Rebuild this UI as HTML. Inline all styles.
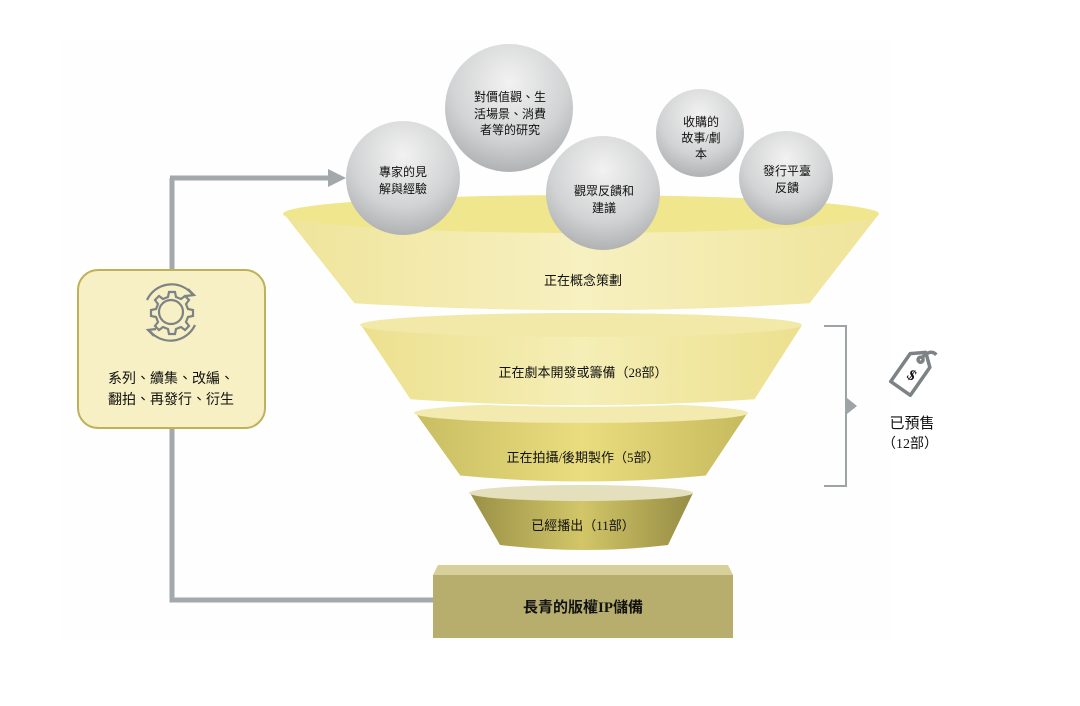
<!DOCTYPE html>
<html><head><meta charset="utf-8"><style>
html,body{margin:0;padding:0;background:#fff;}
svg{display:block;}
text{font-family:"Liberation Serif","Noto Sans CJK TC",sans-serif;fill:#111;}
</style></head><body>
<svg width="1080" height="706" viewBox="0 0 1080 706" xmlns="http://www.w3.org/2000/svg">
<defs>
<radialGradient id="ball" cx="50%" cy="30%" r="75%">
<stop offset="0" stop-color="#f2f2f2"/><stop offset="0.6" stop-color="#d2d3d4"/><stop offset="1" stop-color="#a9abad"/>
</radialGradient>
<linearGradient id="g1" x1="0" x2="1"><stop offset="0" stop-color="#efe49a"/><stop offset="0.5" stop-color="#f7f0c0"/><stop offset="1" stop-color="#efe49a"/></linearGradient>
<linearGradient id="g2" x1="0" x2="1"><stop offset="0" stop-color="#ece08e"/><stop offset="0.5" stop-color="#f5eeb6"/><stop offset="1" stop-color="#ece08e"/></linearGradient>
<linearGradient id="g3" x1="0" x2="1"><stop offset="0" stop-color="#c9bd63"/><stop offset="0.5" stop-color="#e9dd7e"/><stop offset="1" stop-color="#c6ba5e"/></linearGradient>
<linearGradient id="g4" x1="0" x2="1"><stop offset="0" stop-color="#9a9046"/><stop offset="0.5" stop-color="#d2c668"/><stop offset="1" stop-color="#968c44"/></linearGradient>
</defs>
<rect x="60" y="40" width="830" height="600" fill="#fefefe"/>
<path d="M172 178 V600 H433" fill="none" stroke="#a3a8ab" stroke-width="5"/>
<path d="M170 178 H330" fill="none" stroke="#a3a8ab" stroke-width="5"/>
<polygon points="328,169 346,178 328,187" fill="#a3a8ab"/>
<rect x="78" y="270" width="187" height="158" rx="20" fill="#f6f0c4" stroke="#bfb15a" stroke-width="2"/>
<g fill="none" stroke="#7d8285" stroke-width="2.2">
<circle cx="171" cy="312" r="12"/>
<path d="M171 292 l4 0 1 5 5 2 4-3 4 4-3 4 2 5 5 1 0 6-5 1-2 5 3 4-4 4-4-3-5 2-1 5-6 0-1-5-5-2-4 3-4-4 3-4-2-5-5-1 0-6 5-1 2-5-3-4 4-4 4 3 5-2 1-5z"/>
<path d="M147 300 A27 27 0 0 1 193 295"/><path d="M195 325 A27 27 0 0 1 149 330"/>
<path d="M188 289 l6 6 -8 1"/><path d="M154 336 l-6 -6 8 -1"/>
</g>
<text x="171" y="383" font-size="14" text-anchor="middle">系列、續集、改編、</text>
<text x="171" y="404" font-size="14" text-anchor="middle">翻拍、再發行、衍生</text>
<rect x="433" y="575" width="300" height="63" fill="#b7ad6c"/>
<polygon points="433,575 438,565 728,565 733,575" fill="#d8d09a"/>
<text x="583" y="612" font-size="15" font-weight="bold" text-anchor="middle">長青的版權IP儲備</text>
<path d="M470 493 L500 545 Q584 555 668 545 L693 493 Z" fill="url(#g4)"/>
<ellipse cx="581" cy="493" rx="112" ry="8" fill="#e4dfbd"/>
<text x="583" y="530" font-size="13" text-anchor="middle">已經播出（11部）</text>
<path d="M415 413 L460 476 Q584 488 706 476 L748 413 Z" fill="url(#g3)" stroke="#fff" stroke-width="1"/>
<ellipse cx="581" cy="413" rx="167" ry="10" fill="#f3eab0"/>
<text x="583" y="462" font-size="13" text-anchor="middle">正在拍攝/後期製作（5部）</text>
<path d="M360 325 L410 400 Q584 412 755 400 L803 325 Z" fill="url(#g2)" stroke="#fff" stroke-width="1.5"/>
<ellipse cx="581" cy="325" rx="221" ry="12" fill="#f2e9a8"/>
<text x="583" y="377" font-size="13" text-anchor="middle">正在劇本開發或籌備（28部）</text>
<path d="M283 214 L354 304 Q584 318 810 304 L880 214 Z" fill="url(#g1)" stroke="#fff" stroke-width="1.5"/>
<ellipse cx="581" cy="214" rx="298" ry="19" fill="#f0e68e"/>
<text x="583" y="285" font-size="13" text-anchor="middle">正在概念策劃</text>
<circle cx="403" cy="178" r="57" fill="url(#ball)"/>
<circle cx="509" cy="108" r="64" fill="url(#ball)"/>
<circle cx="603" cy="193" r="57" fill="url(#ball)"/>
<circle cx="700" cy="133" r="44" fill="url(#ball)"/>
<circle cx="786" cy="178" r="47" fill="url(#ball)"/>
<g font-size="12" text-anchor="middle">
<text x="403" y="176">專家的見</text><text x="403" y="193">解與經驗</text>
<text x="510" y="101">對價值觀、生</text><text x="510" y="118">活場景、消費</text><text x="510" y="134">者等的研究</text>
<text x="604" y="195">觀眾反饋和</text><text x="604" y="212">建議</text>
<text x="701" y="126">收購的</text><text x="701" y="142">故事/劇</text><text x="701" y="158">本</text>
<text x="787" y="175">發行平臺</text><text x="787" y="192">反饋</text>
</g>
<path d="M824 326 H846 V486 H824" fill="none" stroke="#9ea3a6" stroke-width="2"/>
<polygon points="847,398 857,406 847,414" fill="#9ea3a6"/>
<g transform="rotate(35 912 372)" fill="none" stroke="#7d8285" stroke-width="3.5" stroke-linejoin="round">
<path d="M900 358 L912 348 L924 358 L924 392 L900 392 Z"/>
<circle cx="912" cy="357" r="2.5"/>
<path d="M912 354 q2 -12 10 -10"/>
</g>
<text x="912" y="380" font-size="15" font-weight="bold" text-anchor="middle" fill="#7d8285" transform="rotate(35 912 375)">$</text>
<text x="912" y="428" font-size="15" text-anchor="middle">已預售</text>
<text x="910" y="448" font-size="14" text-anchor="middle">（12部）</text>
</svg>
</body></html>
